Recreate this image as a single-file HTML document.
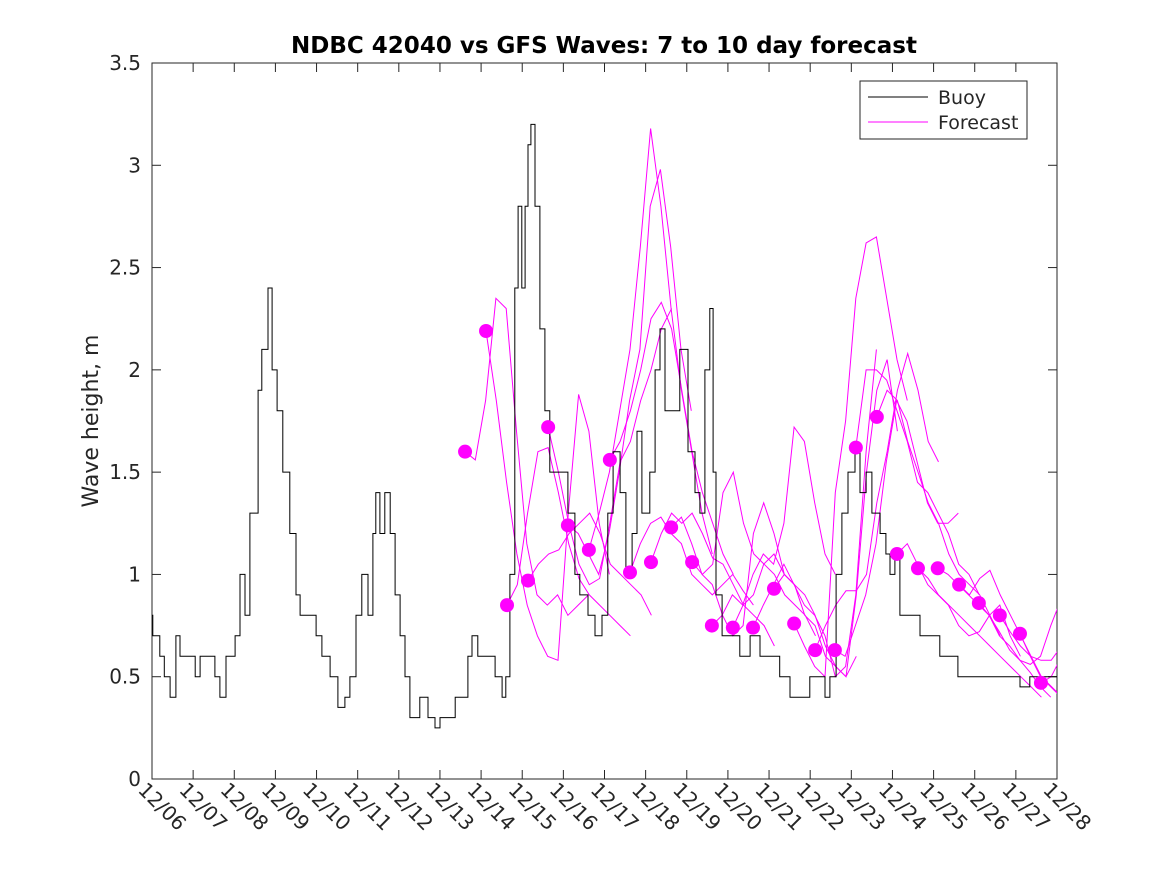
<!DOCTYPE html>
<html><head><meta charset="utf-8"><style>
body{margin:0;background:#fff}
svg{display:block;font-family:"DejaVu Sans","Liberation Sans",sans-serif}
</style></head><body>
<svg id="c" width="1167" height="875">
<rect width="1167" height="875" fill="#fff"/>
<defs><clipPath id="clip"><rect x="152" y="63" width="905" height="716"/></clipPath></defs>
<text x="604" y="53" text-anchor="middle" font-size="23" font-weight="bold">NDBC 42040 vs GFS Waves: 7 to 10 day forecast</text>
<text transform="translate(98,421) rotate(-90)" text-anchor="middle" font-size="22" fill="#262626">Wave height, m</text>
<g id="axes"></g>
<g id="plot" clip-path="url(#clip)"></g>
<g id="legend">
<rect x="860" y="81" width="167" height="58" fill="#fff" stroke="#262626" stroke-width="1"/>
<line x1="868" y1="97" x2="928" y2="97" stroke="#000" stroke-width="1"/>
<text x="938" y="104" font-size="19" fill="#262626">Buoy</text>
<line x1="868" y1="122" x2="928" y2="122" stroke="#f0f" stroke-width="1"/>
<text x="938" y="129" font-size="19" fill="#262626">Forecast</text>
</g>
</svg>
<script>
const xTickLabels=["12/06","12/07","12/08","12/09","12/10","12/11","12/12","12/13","12/14","12/15","12/16","12/17","12/18","12/19","12/20","12/21","12/22","12/23","12/24","12/25","12/26","12/27","12/28"];
const yTicks=[0,0.5,1,1.5,2,2.5,3,3.5];
const yTickLabels=["0","0.5","1","1.5","2","2.5","3","3.5"];
const buoyDays=[0,0.02,0.19,0.3,0.44,0.58,0.68,0.92,1.05,1.17,1.53,1.65,1.8,2.02,2.14,2.26,2.38,2.58,2.67,2.82,2.92,3.04,3.18,3.35,3.5,3.6,3.84,3.99,4.13,4.33,4.52,4.69,4.81,4.96,5.1,5.25,5.37,5.44,5.54,5.66,5.79,5.91,6.03,6.15,6.27,6.51,6.71,6.88,7.0,7.37,7.54,7.68,7.78,7.92,8.22,8.34,8.51,8.6,8.7,8.82,8.9,8.99,9.07,9.14,9.21,9.31,9.43,9.55,9.67,9.92,10.11,10.28,10.4,10.6,10.77,10.94,11.08,11.21,11.38,11.52,11.67,11.79,11.91,12.1,12.23,12.35,12.47,12.64,12.83,13.03,13.2,13.32,13.44,13.56,13.64,13.71,13.86,14.05,14.29,14.54,14.78,15.02,15.26,15.51,15.75,15.99,16.19,16.36,16.48,16.63,16.77,16.92,17.09,17.21,17.36,17.5,17.7,17.84,17.94,18.06,18.18,18.42,18.67,18.91,19.15,19.4,19.59,19.76,20.0,20.37,20.61,20.86,21.1,21.34,22];
const buoyVals=[0.8,0.7,0.6,0.5,0.4,0.7,0.6,0.6,0.5,0.6,0.5,0.4,0.6,0.7,1.0,0.8,1.3,1.9,2.1,2.4,2.0,1.8,1.5,1.2,0.9,0.8,0.8,0.7,0.6,0.5,0.35,0.4,0.5,0.8,1.0,0.8,1.2,1.4,1.2,1.4,1.2,0.9,0.7,0.5,0.3,0.4,0.3,0.25,0.3,0.4,0.4,0.6,0.7,0.6,0.6,0.5,0.4,0.5,1.0,2.4,2.8,2.4,2.8,3.1,3.2,2.8,2.2,1.8,1.5,1.5,1.3,1.0,0.9,0.8,0.7,0.8,1.3,1.6,1.4,1.0,1.2,1.7,1.3,1.5,2.0,2.2,1.8,1.8,2.1,1.6,1.4,1.3,2.0,2.3,1.5,0.9,0.7,0.7,0.6,0.7,0.6,0.6,0.5,0.4,0.4,0.5,0.5,0.4,0.5,1.0,1.3,1.5,1.6,1.4,1.5,1.3,1.2,1.1,1.0,1.1,0.8,0.8,0.7,0.7,0.6,0.6,0.5,0.5,0.5,0.5,0.5,0.5,0.45,0.5,0.5];
const fcStarts=[7.61,8.12,8.63,9.14,9.63,10.11,10.62,11.13,11.62,12.13,12.62,13.13,13.61,14.12,14.61,15.12,15.61,16.12,16.6,17.11,17.62,18.11,18.62,19.1,19.62,20.1,20.61,21.1,21.61];
const fcVals=[
[1.6,1.56,1.85,2.35,2.3,1.7,1.15,0.9,0.85,0.9,0.8,0.85,0.9],
[2.19,1.85,1.45,1.1,0.85,0.7,0.6,0.58,1.3,1.88,1.7,1.25,1.0],
[0.85,0.95,1.3,1.6,1.62,1.4,1.15,0.98,0.9,0.85,0.8,0.75,0.7],
[0.97,1.05,1.1,1.12,1.2,1.25,1.3,1.2,1.05,1.0,0.95,0.9,0.8],
[1.72,1.5,1.25,1.05,0.95,0.98,1.25,1.55,1.65,1.85,2.0,2.2,2.3],
[1.24,1.2,1.1,1.0,1.2,1.5,1.85,2.1,2.8,2.98,2.6,2.1,1.8],
[1.12,1.3,1.5,1.8,2.1,2.6,3.18,2.8,2.3,1.9,1.6,1.3,1.1],
[1.56,1.65,1.8,2.0,2.25,2.33,2.2,1.9,1.6,1.4,1.25,1.1,1.0],
[1.01,1.15,1.25,1.28,1.2,1.15,1.0,0.95,0.9,0.95,1.0,0.92,0.85],
[1.06,1.2,1.3,1.25,1.3,1.2,1.08,1.05,0.95,0.85,0.8,0.75,0.65],
[1.23,1.28,1.15,1.0,0.95,0.8,0.7,0.75,1.2,1.35,1.2,1.0,0.95],
[1.06,1.0,1.05,1.4,1.5,1.25,1.1,1.05,1.0,0.9,0.85,0.8,0.7],
[0.75,0.8,0.9,0.85,1.0,1.1,1.05,1.25,1.72,1.65,1.35,1.1,1.0],
[0.74,0.85,0.9,1.05,1.1,1.0,0.95,0.8,0.75,0.6,0.55,0.5,0.6],
[0.74,0.85,0.95,1.05,0.95,0.85,0.8,0.7,0.5,0.55,0.9,1.6,2.1],
[0.93,1.0,0.95,0.9,0.8,0.65,0.55,0.5,0.9,1.5,1.9,2.05,1.7],
[0.76,0.65,0.55,0.5,1.4,1.75,2.35,2.62,2.65,2.35,2.05,1.85],
[0.63,0.75,0.85,0.92,0.92,1.0,1.35,1.6,1.9,2.08,1.9,1.65,1.55],
[0.63,0.6,0.75,0.9,1.15,1.55,1.85,1.75,1.55,1.35,1.25,1.25,1.3],
[1.62,2.0,2.0,1.95,1.8,1.65,1.45,1.4,1.3,1.2,1.05,1.0,0.9],
[1.77,1.9,1.85,1.65,1.5,1.35,1.25,1.1,1.0,0.95,0.9,0.8,0.7],
[1.1,1.15,1.05,0.95,0.9,0.85,0.75,0.7,0.72,0.8,0.85,0.7,0.6],
[1.03,0.98,0.9,0.85,0.8,0.75,0.7,0.65,0.6,0.55,0.5,0.45,0.4],
[1.03,1.0,0.95,0.9,0.85,0.8,0.7,0.65,0.58,0.52,0.45,0.4],
[0.95,0.9,0.98,1.02,0.9,0.8,0.7,0.6,0.5,0.45,0.4],
[0.86,0.8,0.72,0.63,0.58,0.56,0.6,0.75,0.88],
[0.8,0.72,0.65,0.6,0.58,0.58,0.65],
[0.71,0.6,0.5,0.45,0.4],
[0.47,0.5,0.6]];
const fcStep=0.25;

const NS="http://www.w3.org/2000/svg";
const L=152,R=1057,T=63,B=779;
const xs=d=>L+d*(R-L)/22;
const ys=v=>B-v*(B-T)/3.5;
function mk(tag,attrs,parent){const e=document.createElementNS(NS,tag);for(const k in attrs)e.setAttribute(k,attrs[k]);parent.appendChild(e);return e;}
const axes=document.getElementById('axes'),plot=document.getElementById('plot');
const box=mk('rect',{x:L,y:T,width:R-L,height:B-T,fill:'none',stroke:'#262626','stroke-width':1},axes);


yTicks.forEach((v,i)=>{
  const y=ys(v);
  mk('line',{x1:L,y1:y,x2:L+9,y2:y,stroke:'#262626'},axes);
  mk('line',{x1:R,y1:y,x2:R-9,y2:y,stroke:'#262626'},axes);
  const t=mk('text',{x:141,y:y+7,'text-anchor':'end','font-size':20,fill:'#262626'},axes);
  t.textContent=yTickLabels[i];
  
  
});
xTickLabels.forEach((lab,i)=>{
  const x=xs(i);
  mk('line',{x1:x,y1:B,x2:x,y2:B-9,stroke:'#262626'},axes);
  mk('line',{x1:x,y1:T,x2:x,y2:T+9,stroke:'#262626'},axes);
  const t=mk('text',{transform:`translate(${x-15},${791}) rotate(45)`,'font-size':20,fill:'#262626'},axes);
  t.textContent=lab;
  
  
});
fcStarts.forEach((s,i)=>{
  const pts=fcVals[i].map((v,j)=>xs(s+j*fcStep).toFixed(1)+','+ys(v).toFixed(1)).join(' ');
  const p=mk('polyline',{points:pts,fill:'none',stroke:'#f0f','stroke-width':1},plot);
  
  
});
let bpArr=[];
buoyDays.forEach((d,i)=>{
  if(i>0) bpArr.push(xs(d).toFixed(1)+','+ys(buoyVals[i-1]).toFixed(1));
  bpArr.push(xs(d).toFixed(1)+','+ys(buoyVals[i]).toFixed(1));
});
const bl=mk('polyline',{points:bpArr.join(' '),fill:'none',stroke:'#000','stroke-width':1},plot);


fcStarts.forEach((s,i)=>{
  const c=mk('circle',{cx:xs(s),cy:ys(fcVals[i][0]),r:7,fill:'#f0f'},plot);
  
  
});
</script>
</body></html>
